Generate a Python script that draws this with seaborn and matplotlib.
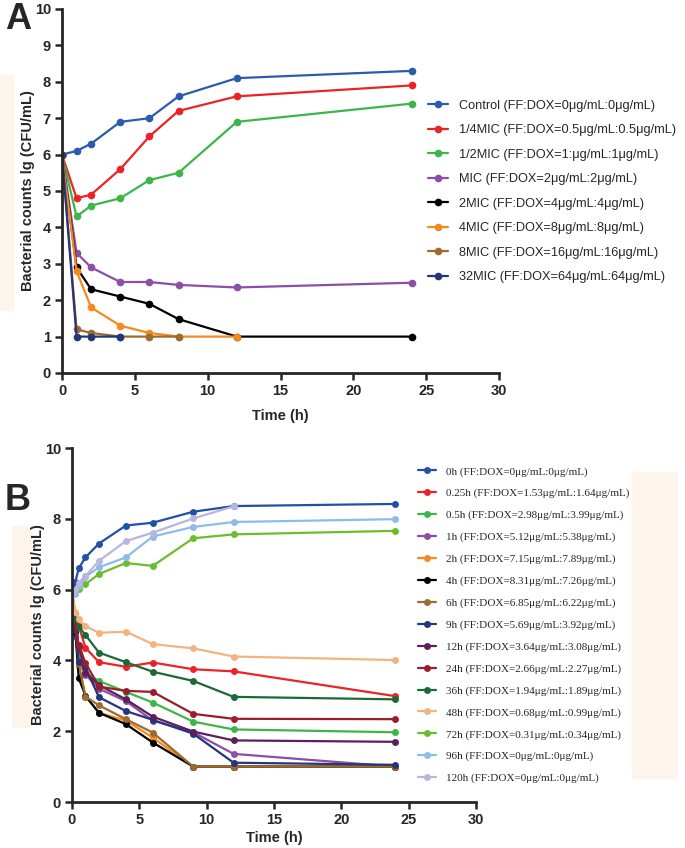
#!/usr/bin/env python3
"""Time-kill curves (A) and PK-simulated time-kill curves (B)."""

from __future__ import annotations

import matplotlib

matplotlib.use("Agg")

import matplotlib.pyplot as plt
import pandas as pd
import seaborn as sns
from matplotlib.patches import Rectangle

# ---- Panel A data ---------------------------------------------------------
A_LABELS = [
    "Control (FF:DOX=0μg/mL:0μg/mL)",
    "1/4MIC (FF:DOX=0.5μg/mL:0.5μg/mL)",
    "1/2MIC (FF:DOX=1:μg/mL:1μg/mL)",
    "MIC (FF:DOX=2μg/mL:2μg/mL)",
    "2MIC (FF:DOX=4μg/mL:4μg/mL)",
    "4MIC (FF:DOX=8μg/mL:8μg/mL)",
    "8MIC (FF:DOX=16μg/mL:16μg/mL)",
    "32MIC (FF:DOX=64μg/mL:64μg/mL)",
]
A_COLORS = ["#2b5bab", "#ec2227", "#3db649", "#8c4ea6",
            "#000000", "#f5891f", "#9c6b2e", "#25357b"]

A_TIME_FULL = [0, 1, 2, 4, 6, 8, 12, 24]
A_TIME_4MIC = [0, 1, 2, 4, 6, 8, 12]
A_TIME_8MIC = [0, 1, 2, 4, 6, 8]
A_TIME_32MIC = [0, 1, 2, 4]

a_control = [6.0, 6.1, 6.3, 6.9, 7.0, 7.6, 8.1, 8.3]
a_quarter = [6.0, 4.8, 4.9, 5.6, 6.5, 7.2, 7.6, 7.9]
a_half = [6.0, 4.3, 4.6, 4.8, 5.3, 5.5, 6.9, 7.4]
a_mic = [6.0, 3.3, 2.9, 2.5, 2.5, 2.42, 2.35, 2.48]
a_2mic = [6.0, 2.9, 2.3, 2.1, 1.9, 1.48, 1.0, 1.0]
a_4mic = [6.0, 2.8, 1.8, 1.3, 1.1, 1.0, 1.0]
a_8mic = [6.0, 1.2, 1.1, 1.0, 1.0, 1.0]
a_32mic = [6.0, 1.0, 1.0, 1.0]

# ---- Panel B data ---------------------------------------------------------
B_LABELS = [
    "0h (FF:DOX=0μg/mL:0μg/mL)",
    "0.25h (FF:DOX=1.53μg/mL:1.64μg/mL)",
    "0.5h (FF:DOX=2.98μg/mL:3.99μg/mL)",
    "1h (FF:DOX=5.12μg/mL:5.38μg/mL)",
    "2h (FF:DOX=7.15μg/mL:7.89μg/mL)",
    "4h (FF:DOX=8.31μg/mL:7.26μg/mL)",
    "6h (FF:DOX=6.85μg/mL:6.22μg/mL)",
    "9h (FF:DOX=5.69μg/mL:3.92μg/mL)",
    "12h (FF:DOX=3.64μg/mL:3.08μg/mL)",
    "24h (FF:DOX=2.66μg/mL:2.27μg/mL)",
    "36h (FF:DOX=1.94μg/mL:1.89μg/mL)",
    "48h (FF:DOX=0.68μg/mL:0.99μg/mL)",
    "72h (FF:DOX=0.31μg/mL:0.34μg/mL)",
    "96h (FF:DOX=0μg/mL:0μg/mL)",
    "120h (FF:DOX=0μg/mL:0μg/mL)",
]
B_COLORS = ["#2150a8", "#ec2227", "#3db649", "#8c4ea6", "#f5891f",
            "#000000", "#9c6b2e", "#25357b", "#5b1f5c", "#9b1d2b",
            "#1b6a36", "#f3b37f", "#6cbd2e", "#8fbbe9", "#b8b5e0"]

B_TIME_FULL = [0, 0.25, 0.5, 1, 2, 4, 6, 9, 12, 24]
B_TIME_12 = [0, 0.25, 0.5, 1, 2, 4, 6, 9, 12]

b_0h = [5.91, 6.22, 6.60, 6.91, 7.30, 7.81, 7.89, 8.20, 8.36, 8.42]
b_025h = [5.91, 5.33, 4.97, 4.36, 3.95, 3.82, 3.94, 3.75, 3.69, 2.99]
b_05h = [5.91, 5.05, 4.25, 3.65, 3.42, 3.11, 2.81, 2.27, 2.05, 1.97]
b_1h = [5.91, 4.70, 3.95, 3.60, 3.20, 2.85, 2.30, 1.97, 1.36, 1.00]
b_2h = [5.91, 4.85, 3.85, 2.98, 2.52, 2.30, 1.82, 1.00, 1.00, 1.00]
b_4h = [5.91, 4.80, 3.50, 3.00, 2.52, 2.20, 1.68, 1.00, 1.00, 1.00]
b_6h = [5.91, 4.90, 3.90, 2.98, 2.73, 2.34, 1.96, 1.00, 1.00, 1.00]
b_9h = [5.91, 4.90, 3.95, 3.80, 2.96, 2.57, 2.32, 1.93, 1.11, 1.05]
b_12h = [5.91, 5.00, 4.40, 3.65, 3.30, 2.90, 2.41, 1.99, 1.74, 1.70]
b_24h = [5.91, 5.00, 4.43, 3.93, 3.26, 3.14, 3.11, 2.49, 2.35, 2.34]
b_36h = [5.91, 5.20, 4.95, 4.72, 4.22, 3.95, 3.68, 3.42, 2.97, 2.90]
b_48h = [5.91, 5.38, 5.16, 4.97, 4.78, 4.81, 4.46, 4.34, 4.11, 4.01]
b_72h = [5.91, 5.95, 6.03, 6.15, 6.44, 6.75, 6.67, 7.45, 7.56, 7.66]
b_96h = [5.91, 5.88, 6.10, 6.36, 6.63, 6.91, 7.50, 7.77, 7.91, 7.99]
b_120h = [5.91, 6.00, 6.20, 6.38, 6.81, 7.37, 7.61, 8.01, 8.35]

BG_PEACH = "#fdf5ec"


def long_frame(series: list[tuple[str, list[float], list[float]]]) -> pd.DataFrame:
    """Stack (label, times, values) triples into one long table."""
    frames = [
        pd.DataFrame({"group": label, "time": times, "count": values})
        for label, times, values in series
    ]
    return pd.concat(frames, ignore_index=True)


def style_axis(ax, yticks, xlabelpad, ylabelpad):
    """GraphPad-like axes: thick left/bottom spines, bold tick labels."""
    sns.despine(ax=ax)
    for side in ("left", "bottom"):
        ax.spines[side].set_linewidth(2.0)
    ax.tick_params(width=1.8, length=5, labelsize=10.5, pad=3)
    ax.set_xlim(0, 30)
    ax.set_xticks(range(0, 31, 5))
    ax.set_ylim(0, 10)
    ax.set_yticks(yticks)
    for lab in ax.get_xticklabels() + ax.get_yticklabels():
        lab.set_fontweight("bold")
    ax.set_xlabel("Time (h)", fontsize=10.5, fontweight="bold", labelpad=xlabelpad)
    ax.set_ylabel("Bacterial counts lg (CFU/mL)", fontsize=10.5,
                  fontweight="bold", labelpad=ylabelpad)


def draw_panel(ax, df, labels, colors, marker_size):
    sns.lineplot(
        data=df, x="time", y="count", hue="group", hue_order=labels,
        palette=colors, marker="o", markersize=marker_size,
        markeredgewidth=0, linewidth=1.6, estimator=None, sort=False,
        legend=True, ax=ax,
    )
    handles, names = ax.get_legend_handles_labels()
    ax.get_legend().remove()
    return handles, names


def add_block(fig, x0, y0, x1, y1):
    """Faint peach block (pixel box, top-left origin) seen in the scan."""
    fig.patches.append(Rectangle(
        (x0 / 685, 1 - y1 / 848), (x1 - x0) / 685, (y1 - y0) / 848,
        transform=fig.transFigure, color=BG_PEACH, zorder=-5,
    ))


def main() -> None:
    sns.set_theme(style="ticks")
    plt.rcParams["font.family"] = ["Liberation Sans", "DejaVu Sans"]

    fig = plt.figure(figsize=(6.85, 8.48), dpi=100)

    add_block(fig, 0, 75, 13, 310)
    add_block(fig, 12, 526, 31, 727)
    add_block(fig, 632, 472, 677, 778)

    # ---- Panel A
    ax_a = fig.add_axes([62 / 685, 1 - 373 / 848, 437 / 685, 364 / 848])
    ax_a.patch.set_alpha(0)
    df_a = long_frame([
        (A_LABELS[0], A_TIME_FULL, a_control),
        (A_LABELS[1], A_TIME_FULL, a_quarter),
        (A_LABELS[2], A_TIME_FULL, a_half),
        (A_LABELS[3], A_TIME_FULL, a_mic),
        (A_LABELS[4], A_TIME_FULL, a_2mic),
        (A_LABELS[5], A_TIME_4MIC, a_4mic),
        (A_LABELS[6], A_TIME_8MIC, a_8mic),
        (A_LABELS[7], A_TIME_32MIC, a_32mic),
    ])
    handles, names = draw_panel(ax_a, df_a, A_LABELS, A_COLORS, 5.5)
    style_axis(ax_a, range(0, 11), xlabelpad=8, ylabelpad=0)
    fig.legend(
        handles, names, loc="upper left", bbox_to_anchor=(428 / 685, 1 - 99.5 / 848),
        frameon=False, fontsize=9.2, handlelength=1.56, handletextpad=0.86,
        labelspacing=0.98, borderpad=0, borderaxespad=0,
    )
    fig.text(5 / 685, 1 - 2 / 848, "A", fontsize=26, fontweight="bold", va="top")

    # ---- Panel B
    ax_b = fig.add_axes([72 / 685, 1 - 802 / 848, 404 / 685, 354 / 848])
    ax_b.patch.set_alpha(0)
    b_values = [b_0h, b_025h, b_05h, b_1h, b_2h, b_4h, b_6h, b_9h,
                b_12h, b_24h, b_36h, b_48h, b_72h, b_96h, b_120h]
    series_b = []
    for label, values in zip(B_LABELS, b_values):
        times = B_TIME_FULL if len(values) == len(B_TIME_FULL) else B_TIME_12
        series_b.append((label, times, values))
    df_b = long_frame(series_b)
    handles, names = draw_panel(ax_b, df_b, B_LABELS, B_COLORS, 5.0)
    style_axis(ax_b, range(0, 11, 2), xlabelpad=3, ylabelpad=0)
    fig.legend(
        handles, names, loc="upper left", bbox_to_anchor=(418 / 685, 1 - 466.5 / 848),
        frameon=False, prop={"family": "Liberation Serif", "size": 8.0},
        handlelength=1.6, handletextpad=0.9, labelspacing=1.07,
        borderpad=0, borderaxespad=0,
    )
    fig.text(5 / 685, 1 - 483 / 848, "B", fontsize=26, fontweight="bold", va="top")

    fig.savefig("out.png", dpi=100)
    plt.close(fig)


if __name__ == "__main__":
    main()
